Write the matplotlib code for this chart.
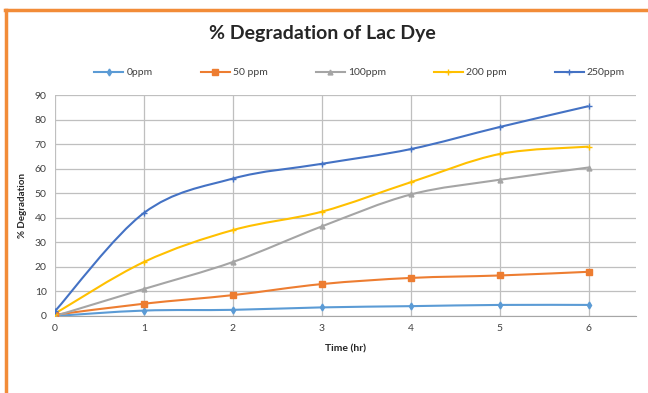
import numpy as np
import matplotlib.pyplot as plt
from matplotlib.path import Path
from matplotlib.patches import PathPatch
from matplotlib.lines import Line2D

plt.rcParams['font.family'] = ['Lato', 'DejaVu Sans']

time_hr = [0, 1, 2, 3, 4, 5, 6]
labels = ['0ppm', '50 ppm', '100ppm', '200 ppm', '250ppm']
deg_0 = [0, 2.2, 2.5, 3.5, 4.0, 4.5, 4.5]
deg_50 = [0.5, 5.0, 8.5, 13.0, 15.5, 16.5, 18.0]
deg_100 = [0, 11.0, 22.0, 36.5, 49.5, 55.5, 60.5]
deg_200 = [1.0, 22.0, 35.0, 42.5, 54.5, 66.0, 69.0]
deg_250 = [2.0, 42.0, 56.0, 62.0, 68.0, 77.0, 85.5]

colors = ['#5B9BD5', '#ED7D31', '#A5A5A5', '#FFC000', '#4472C4']
markers = ['d', 's', '^', '+', '+']
msizes = [3.5, 4.5, 3.5, 4, 4]


def smooth_path(x, y):
    # catmull-rom style bezier through the points (like excel's smoothed line)
    p = np.column_stack([x, y]).astype(float)
    ext = np.vstack([p[0], p, p[-1]])
    verts = [p[0]]
    codes = [Path.MOVETO]
    for i in range(len(p) - 1):
        p0, p1, p2, p3 = ext[i], ext[i + 1], ext[i + 2], ext[i + 3]
        c1 = p1 + (p2 - p0) / 6
        c2 = p2 - (p3 - p1) / 6
        verts += [c1, c2, p2]
        codes += [Path.CURVE4] * 3
    return Path(verts, codes)


fig = plt.figure(figsize=(6.48, 3.93), dpi=100)
ax = fig.add_axes([0.085, 0.196, 0.896, 0.562])

series = [deg_0, deg_50, deg_100, deg_200, deg_250]
handles = []
for vals, c, m, ms, lab in zip(series, colors, markers, msizes, labels):
    ax.add_patch(PathPatch(smooth_path(time_hr, vals), fill=False,
                           edgecolor=c, lw=1.5, zorder=3))
    ax.plot(time_hr, vals, ls='none', marker=m, ms=ms, color=c,
            mec=c, mew=1.0, zorder=4)
    handles.append(Line2D([], [], color=c, lw=1.5, marker=m, ms=ms, mew=1.0))

ax.set_xlim(0, 6.53)
ax.set_ylim(0, 90)
ax.set_xticks(range(7))
ax.set_yticks(range(0, 91, 10))
ax.grid(True, color='#BFBFBF', lw=0.9)
ax.set_axisbelow(True)
for s in ['top', 'right', 'left']:
    ax.spines[s].set_visible(False)
ax.spines['bottom'].set_color('#A6A6A6')
ax.tick_params(length=0, labelsize=7.5, colors='#404040', pad=6)

ax.set_xlabel('Time (hr)', fontsize=7.5, fontweight='bold', color='#262626', labelpad=8)
ax.set_ylabel('% Degradation', fontsize=7, fontweight='bold', color='#262626', labelpad=6)

fig.text(0.497, 0.915, '% Degradation of Lac Dye', ha='center', va='center',
         fontsize=14, fontweight='bold', color='#262626')

fig.legend(handles, labels, loc='center', bbox_to_anchor=(0.555, 0.815),
           ncol=5, frameon=False, fontsize=7.5, handlelength=2.8,
           columnspacing=4.6, handletextpad=0.3, labelcolor='#404040')

# orange frame lines at top and left
fig.add_artist(Line2D([0.008, 1.0], [0.975, 0.975], color='#F28C38', lw=2.5,
                      transform=fig.transFigure))
fig.add_artist(Line2D([0.009, 0.009], [0.0, 0.975], color='#F28C38', lw=2.5,
                      transform=fig.transFigure))

fig.savefig('out.png', dpi=100)
